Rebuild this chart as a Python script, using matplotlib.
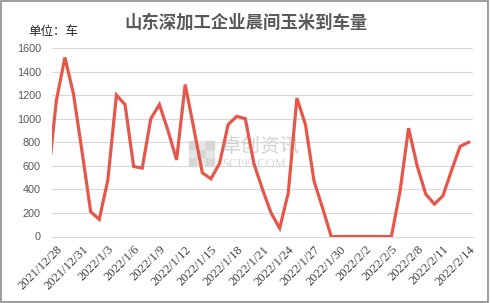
import matplotlib
matplotlib.use("Agg")
import matplotlib.pyplot as plt
import pandas as pd
from matplotlib.patches import Rectangle

plt.rcParams['font.family'] = ['Noto Sans CJK SC', 'DejaVu Sans']

# daily arrivals (vehicles); first point (2021/12/27) sits just outside the axis
dates = pd.date_range("2021-12-27", "2022-02-14", freq="D")
values = [460,
          1150, 1520, 1210, 720, 210, 145, 480, 1200, 1120, 595,
          580, 1000, 1120, 900, 650, 1290, 920, 540, 490, 620,
          950, 1020, 1000, 620, 400, 200, 70, 370, 1175, 950,
          470, 240, 0, 0, 0, 0, 0, 0, 0, 0,
          380, 920, 600, 360, 275, 345, 560, 765, 800]
title = "山东深加工企业晨间玉米到车量"
unit = "单位：车"
yticks = [0, 200, 400, 600, 800, 1000, 1200, 1400, 1600]

labels = [f"{d.year}/{d.month}/{d.day}" for d in dates]
x = list(range(-1, len(values) - 1))

fig = plt.figure(figsize=(4.92, 3.03), dpi=100)
ax = fig.add_axes([52 / 492, 66.5 / 303, 421 / 492, 188.5 / 303])

ax.plot(x, values, color="#E5574B", lw=2.3, solid_joinstyle="miter", zorder=3)

ax.set_xlim(-0.5, len(values) - 1.5)
ax.set_ylim(0, 1600)
ax.set_yticks(yticks)
ax.yaxis.grid(True, color="#D9D9D9", lw=0.8)
ax.set_axisbelow(True)
for s in ["left", "right", "top"]:
    ax.spines[s].set_visible(False)
ax.spines["bottom"].set_color("#D9D9D9")
ax.spines["bottom"].set_linewidth(0.8)
ax.tick_params(axis="y", length=0, pad=8, labelsize=7.8, labelcolor="#595959")
for t in ax.get_yticklabels():
    t.set_fontfamily("Liberation Sans")

tick_pos = x[1::3]
ax.set_xticks(tick_pos)
ax.set_xticklabels(labels[1::3], rotation=45, ha="right", va="top",
                   rotation_mode="anchor", fontsize=9, color="#404040",
                   family="Liberation Serif")
ax.tick_params(axis="x", length=0, pad=5)

fig.text(0.5, 0.925, title, ha="center", va="center", fontsize=12.5,
         fontweight="bold", color="#595959")
fig.text(28 / 492, 1 - 31 / 303, unit, ha="left", va="center", fontsize=9,
         color="#262626")

# watermark (behind the line)
ax.text(0.404, 0.475, "卓创资讯", transform=ax.transAxes, ha="left", va="center",
        fontsize=14, color="#D2D2D2", zorder=1)
ax.text(0.404, 0.385, "SCI99.COM", transform=ax.transAxes, ha="left", va="center",
        fontsize=9, color="#D8D8D8", family="Liberation Serif", zorder=1)
for i in range(3):
    for j in range(3):
        shade = "#D6D6D6" if (i + j) % 2 == 0 else "#E6E6E6"
        ax.add_patch(Rectangle((0.325 + i * 0.0205, 0.374 + j * 0.046), 0.019, 0.043,
                               transform=ax.transAxes, color=shade, zorder=1))

fig.patches.append(Rectangle((0.002, 0.004), 0.99, 0.993, transform=fig.transFigure,
                             fill=False, edgecolor="#8C8C8C", lw=1.2))

fig.savefig("out.png", dpi=100)
